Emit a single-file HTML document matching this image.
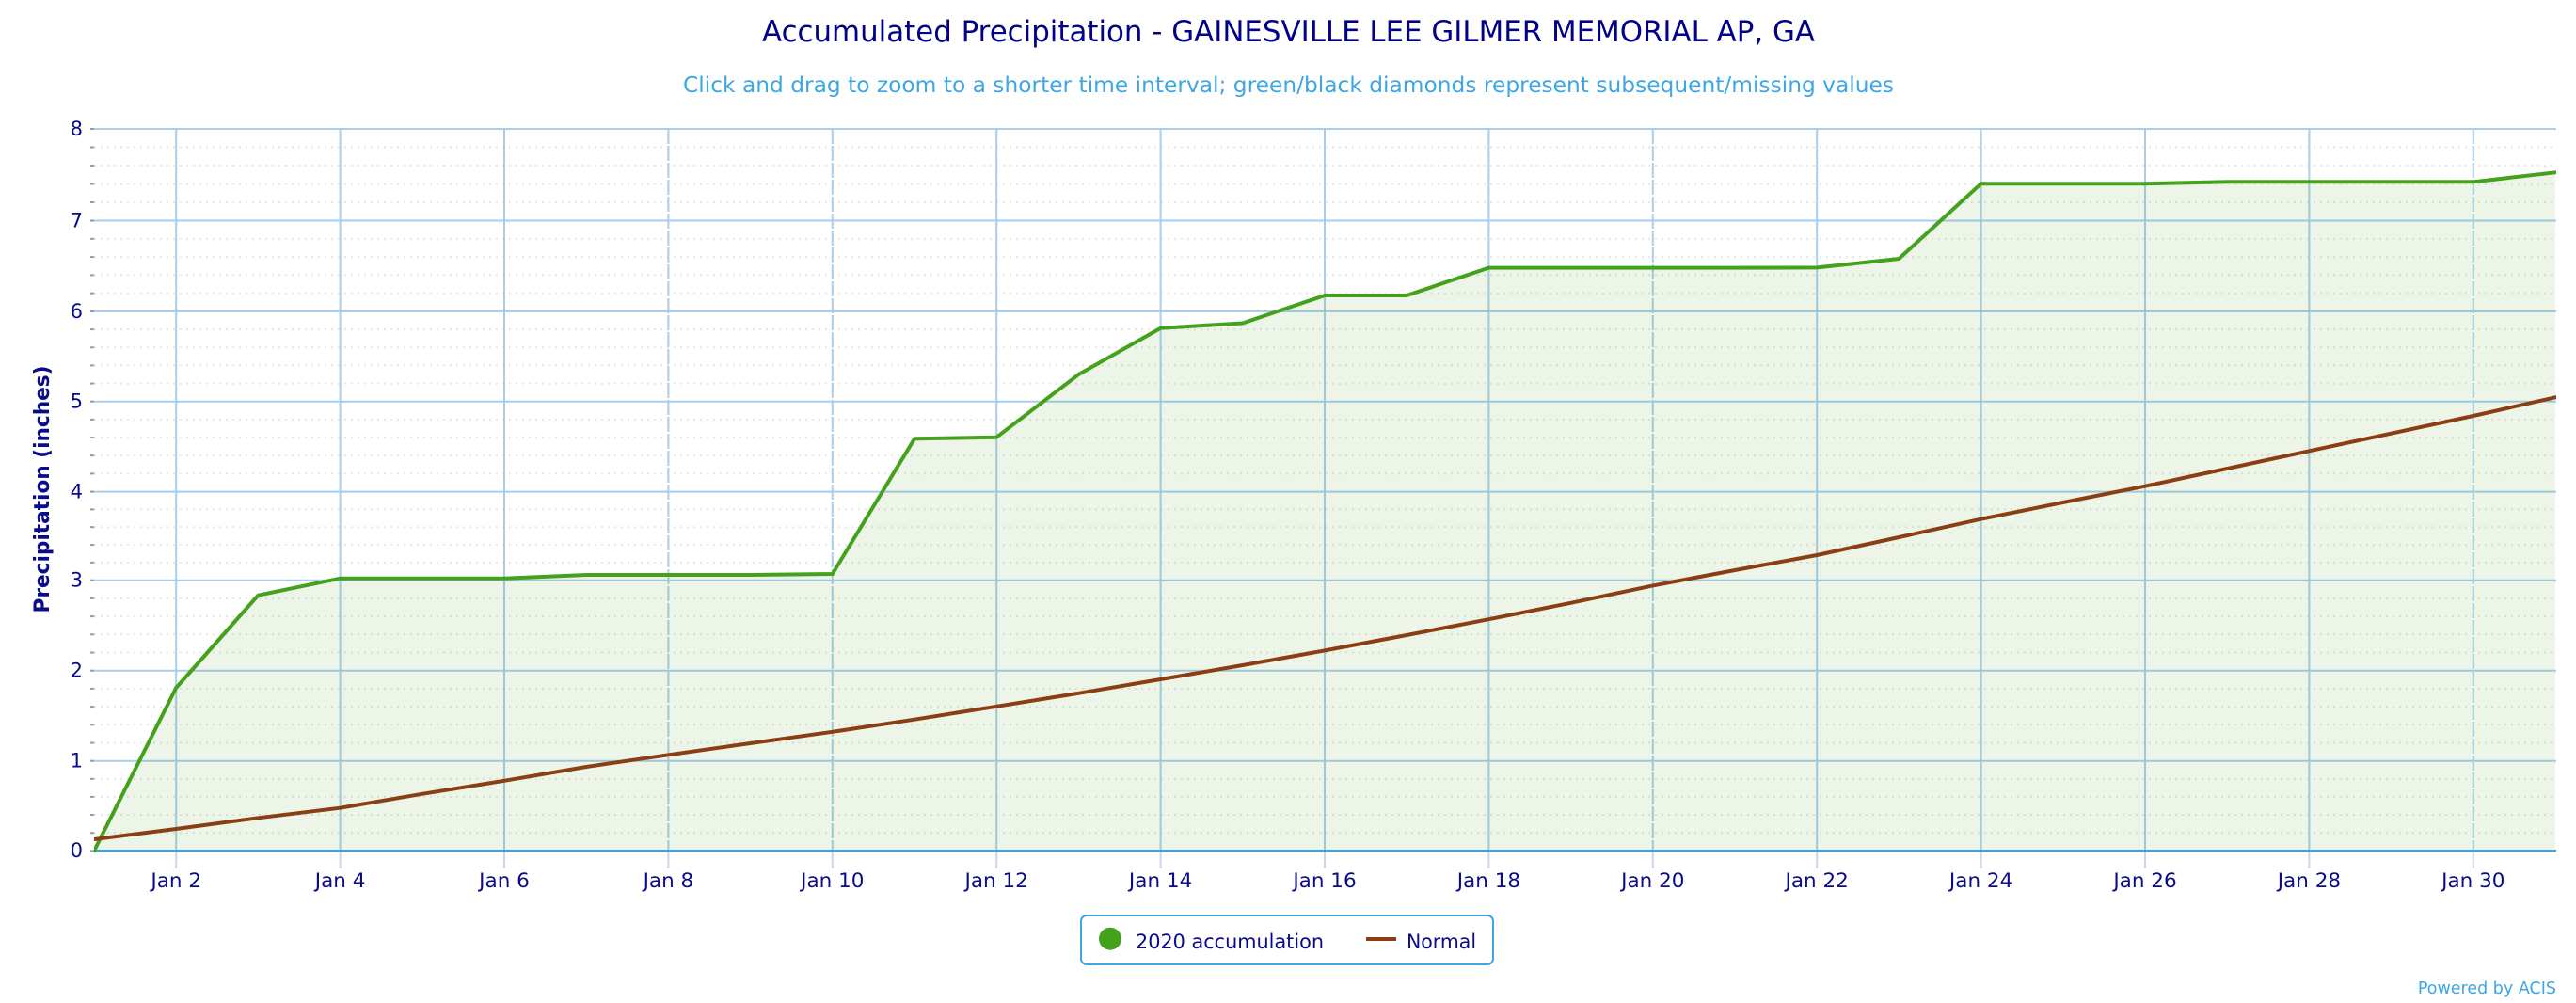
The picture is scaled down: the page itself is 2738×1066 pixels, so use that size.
<!DOCTYPE html>
<html>
<head>
<meta charset="utf-8">
<style>
  html, body { margin:0; padding:0; background:#ffffff; }
  body { width:2738px; height:1066px; overflow:hidden; }
  svg { display:block; font-family:"DejaVu Sans","Liberation Sans",sans-serif; }
</style>
</head>
<body>
<svg width="2738" height="1066" viewBox="0 0 2738 1066" xmlns="http://www.w3.org/2000/svg">
  <rect x="0" y="0" width="2738" height="1066" fill="#ffffff"/>

  <!-- Title -->
  <text x="1369.5" y="44" text-anchor="middle" font-size="31" fill="#00008b" textLength="1119" lengthAdjust="spacingAndGlyphs">Accumulated Precipitation - GAINESVILLE LEE GILMER MEMORIAL AP, GA</text>
  <text x="1369.5" y="98" text-anchor="middle" font-size="23" fill="#3ea6e2" textLength="1287" lengthAdjust="spacingAndGlyphs">Click and drag to zoom to a shorter time interval; green/black diamonds represent subsequent/missing values</text>

  <!-- Minor dotted gridlines -->
  <g stroke="#e6e6e6" stroke-width="2" stroke-dasharray="2,5" fill="none">
    <line x1="100" x2="2717" y1="885.2" y2="885.2"/><line x1="100" x2="2717" y1="866.0" y2="866.0"/><line x1="100" x2="2717" y1="846.9" y2="846.9"/><line x1="100" x2="2717" y1="827.8" y2="827.8"/>
    <line x1="100" x2="2717" y1="789.5" y2="789.5"/><line x1="100" x2="2717" y1="770.3" y2="770.3"/><line x1="100" x2="2717" y1="751.1" y2="751.1"/><line x1="100" x2="2717" y1="731.9" y2="731.9"/>
    <line x1="100" x2="2717" y1="693.5" y2="693.5"/><line x1="100" x2="2717" y1="674.3" y2="674.3"/><line x1="100" x2="2717" y1="655.1" y2="655.1"/><line x1="100" x2="2717" y1="635.9" y2="635.9"/>
    <line x1="100" x2="2717" y1="597.9" y2="597.9"/><line x1="100" x2="2717" y1="579.1" y2="579.1"/><line x1="100" x2="2717" y1="560.2" y2="560.2"/><line x1="100" x2="2717" y1="541.4" y2="541.4"/>
    <line x1="100" x2="2717" y1="503.4" y2="503.4"/><line x1="100" x2="2717" y1="484.2" y2="484.2"/><line x1="100" x2="2717" y1="465.1" y2="465.1"/><line x1="100" x2="2717" y1="445.9" y2="445.9"/>
    <line x1="100" x2="2717" y1="407.6" y2="407.6"/><line x1="100" x2="2717" y1="388.4" y2="388.4"/><line x1="100" x2="2717" y1="369.3" y2="369.3"/><line x1="100" x2="2717" y1="350.1" y2="350.1"/>
    <line x1="100" x2="2717" y1="311.7" y2="311.7"/><line x1="100" x2="2717" y1="292.4" y2="292.4"/><line x1="100" x2="2717" y1="273.1" y2="273.1"/><line x1="100" x2="2717" y1="253.8" y2="253.8"/>
    <line x1="100" x2="2717" y1="215" y2="215"/><line x1="100" x2="2717" y1="195.5" y2="195.5"/><line x1="100" x2="2717" y1="176" y2="176"/><line x1="100" x2="2717" y1="156.5" y2="156.5"/>
  </g>

  <!-- Y ticks (minor + major) -->
  <g stroke="#9a9a9a" stroke-width="2">
    <line x1="96" x2="100" y1="885.2" y2="885.2"/><line x1="96" x2="100" y1="866.0" y2="866.0"/><line x1="96" x2="100" y1="846.9" y2="846.9"/><line x1="96" x2="100" y1="827.8" y2="827.8"/>
    <line x1="96" x2="100" y1="789.5" y2="789.5"/><line x1="96" x2="100" y1="770.3" y2="770.3"/><line x1="96" x2="100" y1="751.1" y2="751.1"/><line x1="96" x2="100" y1="731.9" y2="731.9"/>
    <line x1="96" x2="100" y1="693.5" y2="693.5"/><line x1="96" x2="100" y1="674.3" y2="674.3"/><line x1="96" x2="100" y1="655.1" y2="655.1"/><line x1="96" x2="100" y1="635.9" y2="635.9"/>
    <line x1="96" x2="100" y1="597.9" y2="597.9"/><line x1="96" x2="100" y1="579.1" y2="579.1"/><line x1="96" x2="100" y1="560.2" y2="560.2"/><line x1="96" x2="100" y1="541.4" y2="541.4"/>
    <line x1="96" x2="100" y1="503.4" y2="503.4"/><line x1="96" x2="100" y1="484.2" y2="484.2"/><line x1="96" x2="100" y1="465.1" y2="465.1"/><line x1="96" x2="100" y1="445.9" y2="445.9"/>
    <line x1="96" x2="100" y1="407.6" y2="407.6"/><line x1="96" x2="100" y1="388.4" y2="388.4"/><line x1="96" x2="100" y1="369.3" y2="369.3"/><line x1="96" x2="100" y1="350.1" y2="350.1"/>
    <line x1="96" x2="100" y1="311.7" y2="311.7"/><line x1="96" x2="100" y1="292.4" y2="292.4"/><line x1="96" x2="100" y1="273.1" y2="273.1"/><line x1="96" x2="100" y1="253.8" y2="253.8"/>
    <line x1="96" x2="100" y1="215" y2="215"/><line x1="96" x2="100" y1="195.5" y2="195.5"/><line x1="96" x2="100" y1="176" y2="176"/><line x1="96" x2="100" y1="156.5" y2="156.5"/>
    <line x1="96" x2="100" y1="904.3" y2="904.3"/><line x1="96" x2="100" y1="808.7" y2="808.7"/><line x1="96" x2="100" y1="712.7" y2="712.7"/><line x1="96" x2="100" y1="616.7" y2="616.7"/>
    <line x1="96" x2="100" y1="522.6" y2="522.6"/><line x1="96" x2="100" y1="426.7" y2="426.7"/><line x1="96" x2="100" y1="331" y2="331"/><line x1="96" x2="100" y1="234.5" y2="234.5"/><line x1="96" x2="100" y1="137" y2="137"/>
  </g>

  <!-- Major horizontal gridlines -->
  <g stroke="#a9cdea" stroke-width="2">
    <line x1="100" x2="2717" y1="808.7" y2="808.7"/>
    <line x1="100" x2="2717" y1="712.7" y2="712.7"/>
    <line x1="100" x2="2717" y1="616.7" y2="616.7"/>
    <line x1="100" x2="2717" y1="522.6" y2="522.6"/>
    <line x1="100" x2="2717" y1="426.7" y2="426.7"/>
    <line x1="100" x2="2717" y1="331" y2="331"/>
    <line x1="100" x2="2717" y1="234.5" y2="234.5"/>
    <line x1="100" x2="2717" y1="137" y2="137"/>
  </g>

  <!-- Vertical gridlines -->
  <g stroke="#a9cdea" stroke-width="2">
    <line x1="187.2" x2="187.2" y1="137" y2="904"/>
    <line x1="361.6" x2="361.6" y1="137" y2="904"/>
    <line x1="536" x2="536" y1="137" y2="904"/>
    <line x1="1059.2" x2="1059.2" y1="137" y2="904"/>
    <line x1="1233.6" x2="1233.6" y1="137" y2="904"/>
    <line x1="1408" x2="1408" y1="137" y2="904"/>
    <line x1="1582.4" x2="1582.4" y1="137" y2="904"/>
    <line x1="1931.2" x2="1931.2" y1="137" y2="904"/>
    <line x1="2105.6" x2="2105.6" y1="137" y2="904"/>
    <line x1="2280" x2="2280" y1="137" y2="904"/>
    <line x1="2454.4" x2="2454.4" y1="137" y2="904"/>
  </g>
  <g stroke="#a9cdea" stroke-width="2" stroke-dasharray="16,2">
    <line x1="710.4" x2="710.4" y1="137" y2="904"/>
    <line x1="884.8" x2="884.8" y1="137" y2="904"/>
    <line x1="1756.8" x2="1756.8" y1="137" y2="904"/>
    <line x1="2628.8" x2="2628.8" y1="137" y2="904"/>
  </g>

  <!-- X ticks -->
  <g stroke="#ccd6eb" stroke-width="2">
    <line x1="187.2" x2="187.2" y1="905" y2="923"/>
    <line x1="361.6" x2="361.6" y1="905" y2="923"/>
    <line x1="536" x2="536" y1="905" y2="923"/>
    <line x1="710.4" x2="710.4" y1="905" y2="923"/>
    <line x1="884.8" x2="884.8" y1="905" y2="923"/>
    <line x1="1059.2" x2="1059.2" y1="905" y2="923"/>
    <line x1="1233.6" x2="1233.6" y1="905" y2="923"/>
    <line x1="1408" x2="1408" y1="905" y2="923"/>
    <line x1="1582.4" x2="1582.4" y1="905" y2="923"/>
    <line x1="1756.8" x2="1756.8" y1="905" y2="923"/>
    <line x1="1931.2" x2="1931.2" y1="905" y2="923"/>
    <line x1="2105.6" x2="2105.6" y1="905" y2="923"/>
    <line x1="2280" x2="2280" y1="905" y2="923"/>
    <line x1="2454.4" x2="2454.4" y1="905" y2="923"/>
    <line x1="2628.8" x2="2628.8" y1="905" y2="923"/>
  </g>

  <!-- Area fill under 2020 accumulation -->
  <polygon fill="rgba(68,161,28,0.10)" points="100,904.3 187.2,731 274.4,632.7 361.6,614.7 448.8,614.7 536,614.7 623.2,611 710.4,611 797.6,611 884.8,610 972,466.3 1059.2,464.7 1146.4,398 1233.6,348.7 1320.8,343.5 1408,314 1495.2,314 1582.4,284.6 1669.6,284.6 1756.8,284.6 1844,284.6 1931.2,284.4 2018.4,275 2105.6,195.2 2192.8,195.2 2280,195.2 2367.2,193.3 2454.4,193.3 2541.6,193.3 2628.8,193.3 2716,183.3 2716,904.3"/>

  <!-- X axis line -->
  <line x1="100" x2="2717" y1="904.3" y2="904.3" stroke="#3ba2df" stroke-width="2.5"/>

  <defs>
    <clipPath id="plot"><rect x="100" y="100" width="2617" height="806"/></clipPath>
  </defs>
  <g clip-path="url(#plot)" fill="none" stroke-linejoin="round" stroke-linecap="round">
    <polyline stroke="#44a11c" stroke-width="4" points="100,904.3 187.2,731 274.4,632.7 361.6,614.7 448.8,614.7 536,614.7 623.2,611 710.4,611 797.6,611 884.8,610 972,466.3 1059.2,464.7 1146.4,398 1233.6,348.7 1320.8,343.5 1408,314 1495.2,314 1582.4,284.6 1669.6,284.6 1756.8,284.6 1844,284.6 1931.2,284.4 2018.4,275 2105.6,195.2 2192.8,195.2 2280,195.2 2367.2,193.3 2454.4,193.3 2541.6,193.3 2628.8,193.3 2716,183.3"/>
    <polyline stroke="#8b3e14" stroke-width="4" points="100,892 187.2,881 274.4,869.3 361.6,858.7 448.8,843.8 536,829.8 623.2,815 710.4,802.3 797.6,790 884.8,777.8 972,764.7 1059.2,750.8 1146.4,736.8 1233.6,722 1320.8,707 1408,691.4 1495.2,675 1582.4,658.2 1669.6,640.8 1756.8,622.4 1844,606 1931.2,590 2018.4,571 2105.6,551.7 2192.8,534 2280,516.7 2367.2,498 2454.4,479.3 2541.6,460.7 2628.8,442 2716,422.3"/>
  </g>

  <!-- Y axis labels -->
  <g font-size="21" fill="#0a0a8c" text-anchor="end">
    <text x="88" y="911">0</text>
    <text x="88" y="815.5">1</text>
    <text x="88" y="719.5">2</text>
    <text x="88" y="623.5">3</text>
    <text x="88" y="529.5">4</text>
    <text x="88" y="433.5">5</text>
    <text x="88" y="338">6</text>
    <text x="88" y="241.5">7</text>
    <text x="88" y="144">8</text>
  </g>

  <!-- Y axis title -->
  <text transform="translate(52,520) rotate(-90)" text-anchor="middle" font-size="22" font-weight="bold" fill="#0a0a8c" textLength="263" lengthAdjust="spacingAndGlyphs">Precipitation (inches)</text>

  <!-- X axis labels -->
  <g font-size="21.5" fill="#0a0a8c" text-anchor="middle">
    <text x="187.2" y="943">Jan 2</text>
    <text x="361.6" y="943">Jan 4</text>
    <text x="536" y="943">Jan 6</text>
    <text x="710.4" y="943">Jan 8</text>
    <text x="884.8" y="943">Jan 10</text>
    <text x="1059.2" y="943">Jan 12</text>
    <text x="1233.6" y="943">Jan 14</text>
    <text x="1408" y="943">Jan 16</text>
    <text x="1582.4" y="943">Jan 18</text>
    <text x="1756.8" y="943">Jan 20</text>
    <text x="1931.2" y="943">Jan 22</text>
    <text x="2105.6" y="943">Jan 24</text>
    <text x="2280" y="943">Jan 26</text>
    <text x="2454.4" y="943">Jan 28</text>
    <text x="2628.8" y="943">Jan 30</text>
  </g>

  <!-- Legend -->
  <rect x="1149" y="973" width="438" height="52" rx="6" ry="6" fill="#ffffff" stroke="#3ea6e0" stroke-width="2"/>
  <circle cx="1180" cy="997.7" r="12" fill="#44a11c"/>
  <text x="1207" y="1008" font-size="21" fill="#0a0a8c" textLength="200" lengthAdjust="spacingAndGlyphs">2020 accumulation</text>
  <line x1="1452" x2="1484" y1="998" y2="998" stroke="#8b3e14" stroke-width="4"/>
  <text x="1495" y="1008" font-size="21" fill="#0a0a8c" textLength="74" lengthAdjust="spacingAndGlyphs">Normal</text>

  <!-- Credits -->
  <text x="2717" y="1056" text-anchor="end" font-size="17.5" fill="#3ea6e2">Powered by ACIS</text>
</svg>
</body>
</html>
